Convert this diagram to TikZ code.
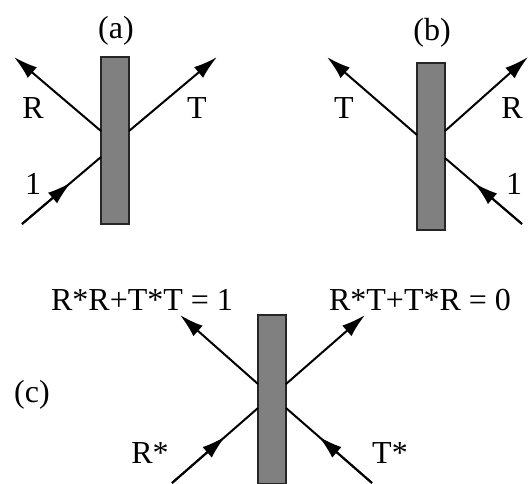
\documentclass[tikz,border=0pt]{standalone}
\usepackage{fontspec}
\setmainfont{Liberation Serif}
\usetikzlibrary{arrows.meta,calc}
\begin{document}
\begin{tikzpicture}[x=1pt,y=-1pt,
  plate/.style={draw=black!85,line width=1.3pt,fill=black!50},
  tipshape/.tip={Latex[length=24pt,width=14pt]},
  ray/.style={line width=2pt,-tipshape},
  plain/.style={line width=2pt},
  midray/.style={line width=2pt,-tipshape},
  lab/.style={inner sep=0pt,font=\fontsize{32}{38}\selectfont}]
\useasboundingbox (0,0) rectangle (529,483);
% ---------- (a)
\draw[plate] (101,57) rectangle (129,224);
\node[lab] (la) at (116,31) {(a)};
\coordinate (a1) at (101,131);
\coordinate (a2) at (129,131);
\coordinate (a3) at (101,157);
\coordinate (aR) at (14,57);
\coordinate (aT) at (217,57);
\coordinate (aI) at (22,224);
\draw[ray] (a1) -- (aR);
\draw[ray] (a2) -- (aT);
\draw[plain] (aI) -- (a3);
\draw[midray] (aI) -- ($(aI)!0.62!(a3)$);
\node[lab] (laR) at (33,108) {R};
\node[lab] (laT) at (197,108) {T};
\node[lab] (la1) at (33,184) {1};
% ---------- (b)
\draw[plate] (417,63) rectangle (445,230);
\node[lab] (lb) at (432,33) {(b)};
\coordinate (b1) at (417,135);
\coordinate (b2) at (445,131);
\coordinate (b3) at (445,158);
\coordinate (bT) at (327,57);
\coordinate (bR) at (528,57);
\coordinate (bI) at (522,224);
\draw[ray] (b1) -- (bT);
\draw[ray] (b2) -- (bR);
\draw[plain] (bI) -- (b3);
\draw[midray] (bI) -- ($(bI)!0.62!(b3)$);
\node[lab] (lbT) at (344,108) {T};
\node[lab] (lbR) at (512,108) {R};
\node[lab] (lb1) at (514,184) {1};
% ---------- (c)
\draw[plate] (258,315) rectangle (286,484);
\node[lab] (lc) at (32,395) {(c)};
\coordinate (c1) at (258,384);
\coordinate (c2) at (286,384);
\coordinate (c3) at (258,408);
\coordinate (c4) at (286,408);
\coordinate (cUL) at (180,315);
\coordinate (cUR) at (365,315);
\coordinate (cLL) at (172,483);
\coordinate (cLR) at (372,483);
\draw[ray] (c1) -- (cUL);
\draw[ray] (c2) -- (cUR);
\draw[plain] (cLL) -- (c3);
\draw[midray] (cLL) -- ($(cLL)!0.62!(c3)$);
\draw[plain] (cLR) -- (c4);
\draw[midray] (cLR) -- ($(cLR)!0.62!(c4)$);
\node[lab] (lcL) at (142,300) {R*R+T*T = 1};
\node[lab] (lcR) at (420,300) {R*T+T*R = 0};
\node[lab] (lcRs) at (150,453) {R*};
\node[lab] (lcTs) at (390,453) {T*};
\end{tikzpicture}
\end{document}
